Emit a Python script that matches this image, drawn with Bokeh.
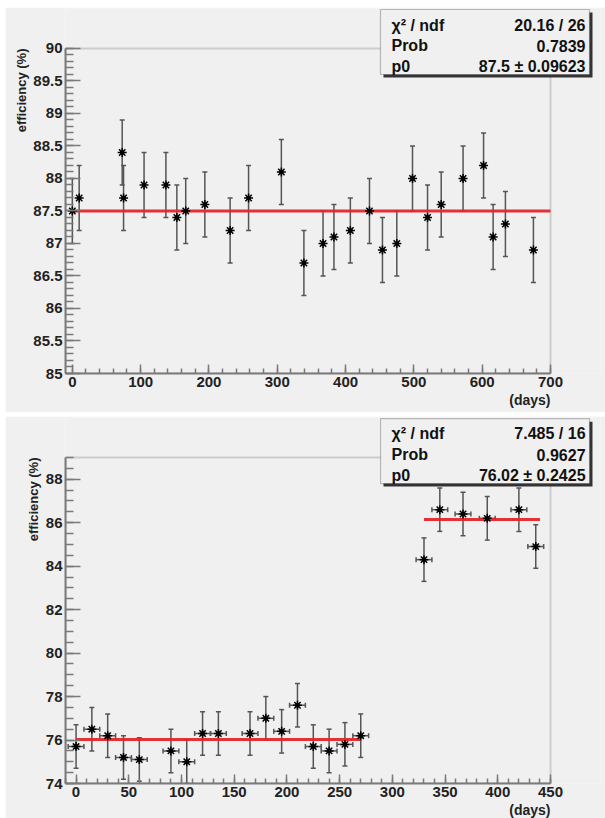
from bokeh.plotting import figure
from bokeh.models import (ColumnDataSource, Whisker, TeeHead, Range1d, SingleIntervalTicker,
                          Title, BoxAnnotation, Label, PrintfTickFormatter)
from bokeh.layouts import column
from bokeh.embed import file_html
from bokeh.resources import INLINE

# ---------------- data: top panel ----------------
top_days = [0, 10, 73, 75, 105, 137, 153, 166, 194, 231, 258, 306, 339, 367, 383, 407,
            435, 454, 475, 498, 520, 540, 572, 602, 616, 634, 675]
top_eff = [87.5, 87.7, 88.4, 87.7, 87.9, 87.9, 87.4, 87.5, 87.6, 87.2, 87.7, 88.1, 86.7, 87.0,
           87.1, 87.2, 87.5, 86.9, 87.0, 88.0, 87.4, 87.6, 88.0, 88.2, 87.1, 87.3, 86.9]
top_err = [0.5, 0.5, 0.5, 0.5, 0.5, 0.5, 0.5, 0.5, 0.5, 0.5, 0.5, 0.5, 0.5, 0.5,
           0.5, 0.5, 0.5, 0.5, 0.5, 0.5, 0.5, 0.5, 0.5, 0.5, 0.5, 0.5, 0.5]
top_fit_x0 = [0]
top_fit_x1 = [700]
top_fit_y = [87.5]
top_stats_names = ["χ² / ndf", "Prob", "p0"]
top_stats_values = ["20.16 / 26", "0.7839", "87.5 ± 0.09623"]

# ---------------- data: bottom panel ----------------
bot_days = [0, 15, 30, 45, 60, 90, 105, 120, 135, 165, 180, 195, 210, 225, 240, 255, 270,
            330, 345, 367, 390, 420, 436]
bot_eff = [75.7, 76.5, 76.2, 75.2, 75.1, 75.5, 75.0, 76.3, 76.3, 76.3, 77.0, 76.4, 77.6,
           75.7, 75.5, 75.8, 76.2, 84.3, 86.6, 86.4, 86.2, 86.6, 84.9]
bot_err = [1.0, 1.0, 1.0, 1.0, 1.0, 1.0, 1.0, 1.0, 1.0, 1.0, 1.0, 1.0, 1.0,
           1.0, 1.0, 1.0, 1.0, 1.0, 1.0, 1.0, 1.0, 1.0, 1.0]
bot_xerr = [7.5, 7.5, 7.5, 7.5, 7.5, 7.5, 7.5, 7.5, 7.5, 7.5, 7.5, 7.5, 7.5,
            7.5, 7.5, 7.5, 7.5, 7.5, 7.5, 7.5, 7.5, 7.5, 7.5]
bot_fit_x0 = [0, 330]
bot_fit_x1 = [270, 440]
bot_fit_y = [76.02, 86.15]
bot_stats_names = ["χ² / ndf", "Prob", "p0"]
bot_stats_values = ["7.485 / 16", "0.9627", "76.02 ± 0.2425"]

FONT = "Liberation Sans"
PAD = "#f0f0f0"
FRAME = "#7a7a7a"
ERRC = "#555555"


def make_panel(days, eff, err, xerr, fx0, fx1, fy, xr, yr, xbounds, ybounds,
               xint, xminor, yint, yminor, height, margin, mb_bottom, box, rows,
               names, values, ytitle_offset):
    p = figure(width=600, height=height, output_backend="svg", toolbar_location=None,
               x_range=Range1d(*xr), y_range=Range1d(*yr),
               min_border_left=60, min_border_right=5, min_border_top=1,
               min_border_bottom=mb_bottom,
               background_fill_color=PAD, border_fill_color=PAD,
               outline_line_color=None, margin=margin)
    p.grid.visible = False

    # ROOT-style frame around the data area
    p.add_layout(BoxAnnotation(left=xbounds[0], right=xbounds[1], bottom=ybounds[0],
                               top=ybounds[1], fill_alpha=0, line_color=FRAME,
                               line_width=2, level="underlay"))

    lo = [e - d for e, d in zip(eff, err)]
    hi = [e + d for e, d in zip(eff, err)]
    data = dict(x=days, y=eff, lo=lo, hi=hi)
    if xerr is not None:
        data["xlo"] = [x - d for x, d in zip(days, xerr)]
        data["xhi"] = [x + d for x, d in zip(days, xerr)]
    src = ColumnDataSource(data)

    w = Whisker(base="x", lower="lo", upper="hi", source=src, line_color=ERRC, line_width=1.5,
                upper_head=TeeHead(size=5, line_color=ERRC, line_width=1.5),
                lower_head=TeeHead(size=5, line_color=ERRC, line_width=1.5))
    p.add_layout(w)
    if xerr is not None:
        wx = Whisker(base="y", lower="xlo", upper="xhi", source=src, dimension="width",
                     line_color=ERRC, line_width=1.5,
                     upper_head=TeeHead(size=5, line_color=ERRC, line_width=1.5),
                     lower_head=TeeHead(size=5, line_color=ERRC, line_width=1.5))
        p.add_layout(wx)

    fsrc = ColumnDataSource(dict(x0=fx0, x1=fx1, y=fy))
    p.segment(x0="x0", y0="y", x1="x1", y1="y", source=fsrc, line_color="#e3262b",
              line_width=3, line_alpha=0.95)

    p.scatter("x", "y", source=src, marker="asterisk", size=9, line_color="black", line_width=1.5)
    p.scatter("x", "y", source=src, marker="square", size=3, fill_color="black", line_color="black")

    p.xaxis.ticker = SingleIntervalTicker(interval=xint, num_minor_ticks=xminor)
    p.yaxis.ticker = SingleIntervalTicker(interval=yint, num_minor_ticks=yminor)
    p.xaxis.bounds = xbounds
    p.yaxis.bounds = ybounds
    for ax in (p.xaxis, p.yaxis):
        ax.formatter = PrintfTickFormatter(format="%g")
        ax.major_label_text_font = FONT
        ax.major_label_text_font_style = "bold"
        ax.major_label_text_font_size = "15px"
        ax.major_label_text_color = "#222222"
        ax.major_label_standoff = 3
        ax.axis_line_color = FRAME
        ax.axis_line_width = 2
        ax.major_tick_line_color = FRAME
        ax.minor_tick_line_color = FRAME
        ax.major_tick_line_width = 1.5
        ax.minor_tick_line_width = 1.5
        ax.major_tick_out = 0
        ax.minor_tick_out = 0
    p.yaxis.major_tick_in = 15
    p.yaxis.minor_tick_in = 8
    p.xaxis.major_tick_in = 9
    p.xaxis.minor_tick_in = 5

    p.add_layout(Title(text="efficiency (%)", align="right", text_font=FONT,
                       text_font_style="bold", text_font_size="13px", text_color="#222222",
                       standoff=4, offset=ytitle_offset), "left")
    p.add_layout(Title(text="(days)", align="right", text_font=FONT, text_font_style="bold",
                       text_font_size="14px", text_color="#222222", standoff=0,
                       offset=50), "below")

    # stats box (shadow + box)
    bl, br, bt, bb, sdx, sdy = box
    p.add_layout(BoxAnnotation(left=bl + sdx, right=br + sdx, top=bt - sdy, bottom=bb - sdy,
                               fill_color="#333333", fill_alpha=1.0, line_color=None,
                               level="overlay"))
    p.add_layout(BoxAnnotation(left=bl, right=br, top=bt, bottom=bb, fill_color=PAD,
                               fill_alpha=1.0, line_color="#333333", line_width=1.2,
                               level="overlay"))
    tl, tr = rows[0], rows[1]
    for yy, nm, vv in zip(rows[2], names, values):
        p.add_layout(Label(x=tl, y=yy, text=nm, text_align="left", text_baseline="middle",
                           text_font=FONT, text_font_style="bold", text_font_size="16px",
                           text_color="#111111", level="overlay"))
        p.add_layout(Label(x=tr, y=yy, text=vv, text_align="right", text_baseline="middle",
                           text_font=FONT, text_font_style="bold", text_font_size="16px",
                           text_color="#111111", level="overlay"))
    return p


p1 = make_panel(top_days, top_eff, top_err, None, top_fit_x0, top_fit_x1, top_fit_y,
                (-10, 773.2), (85, 90.615), (-10, 700), (85, 90),
                100, 5, 0.5, 5, 405, (7, 0, 0, 5), 39,
                (451.1, 757.1, 90.6, 89.6, 4.4, 0.046),
                (467.2, 751.2, [90.36, 90.04, 89.72]),
                top_stats_names, top_stats_values, 40)

p2 = make_panel(bot_days, bot_eff, bot_err, bot_xerr, bot_fit_x0, bot_fit_x1, bot_fit_y,
                (-10, 497.4), (74, 90.84), (-10, 450), (74, 89),
                50, 5, 2, 4, 402, (4, 0, 0, 5), 35,
                (288.8, 487.0, 90.79, 87.80, 2.8, 0.14),
                (299.2, 483.2, [90.10, 89.13, 88.17]),
                bot_stats_names, bot_stats_values, 40)

layout = column(p1, p2, spacing=0)
open("out.html", "w").write(file_html(layout, INLINE))
